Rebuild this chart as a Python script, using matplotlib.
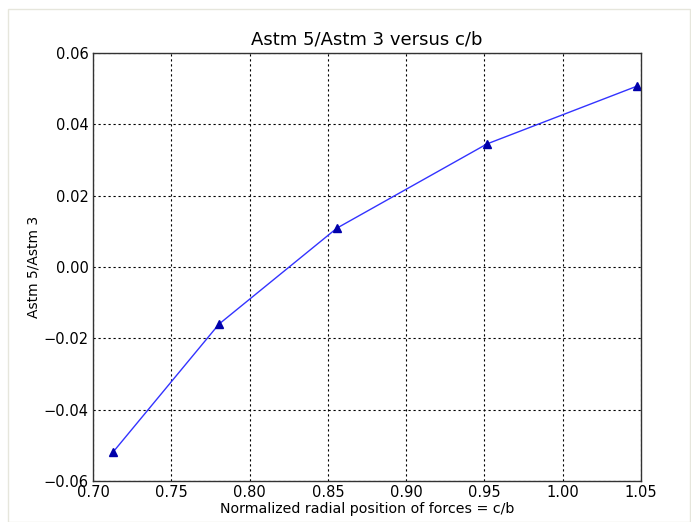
import matplotlib
matplotlib.use("Agg")
import matplotlib.pyplot as plt
from matplotlib.patches import Rectangle

x_vals = [0.7128, 0.7805, 0.8558, 0.9516, 1.0474]
y_vals = [-0.0519, -0.0160, 0.0109, 0.0345, 0.0507]
x_ticks = [0.70, 0.75, 0.80, 0.85, 0.90, 0.95, 1.00, 1.05]
y_ticks = [-0.06, -0.04, -0.02, 0.00, 0.02, 0.04, 0.06]

fig = plt.figure(figsize=(6.91, 5.22), dpi=100)
fig.patch.set_facecolor("white")
fig.patches.append(Rectangle((8/691, 0), 1 - 9/691, 1 - 9/522, transform=fig.transFigure,
                             fill=False, edgecolor="#e6e6dc", linewidth=1.0))

ax = fig.add_axes([93/691, 1 - 481/522, (641 - 93)/691, (481 - 53)/522])
ax.plot(x_vals, y_vals, color="#3333ff", linewidth=1.0, marker="^",
        markersize=6, markerfacecolor="#0000aa", markeredgecolor="#0000aa")
ax.set_xlim(0.70, 1.05)
ax.set_ylim(-0.06, 0.06)
ax.set_xticks(x_ticks)
ax.set_xticklabels([f"{v:.2f}" for v in x_ticks])
ax.set_yticks(y_ticks)
ax.set_yticklabels([f"{v:.2f}".replace("-", "\u2212") for v in y_ticks])
ax.grid(True, color="black", linestyle=(0, (2, 2.5)), linewidth=0.8)
ax.tick_params(direction="in", length=0, labelsize=10.5, pad=3)
for s in ax.spines.values():
    s.set_linewidth(1.0)
    s.set_color("#333333")
ax.set_title("Astm 5/Astm 3 versus c/b", fontsize=13, pad=6)
ax.set_xlabel("Normalized radial position of forces = c/b", fontsize=10.2, labelpad=1)
ax.set_ylabel("Astm 5/Astm 3", fontsize=10, labelpad=2)

fig.savefig("out.png", dpi=100)
